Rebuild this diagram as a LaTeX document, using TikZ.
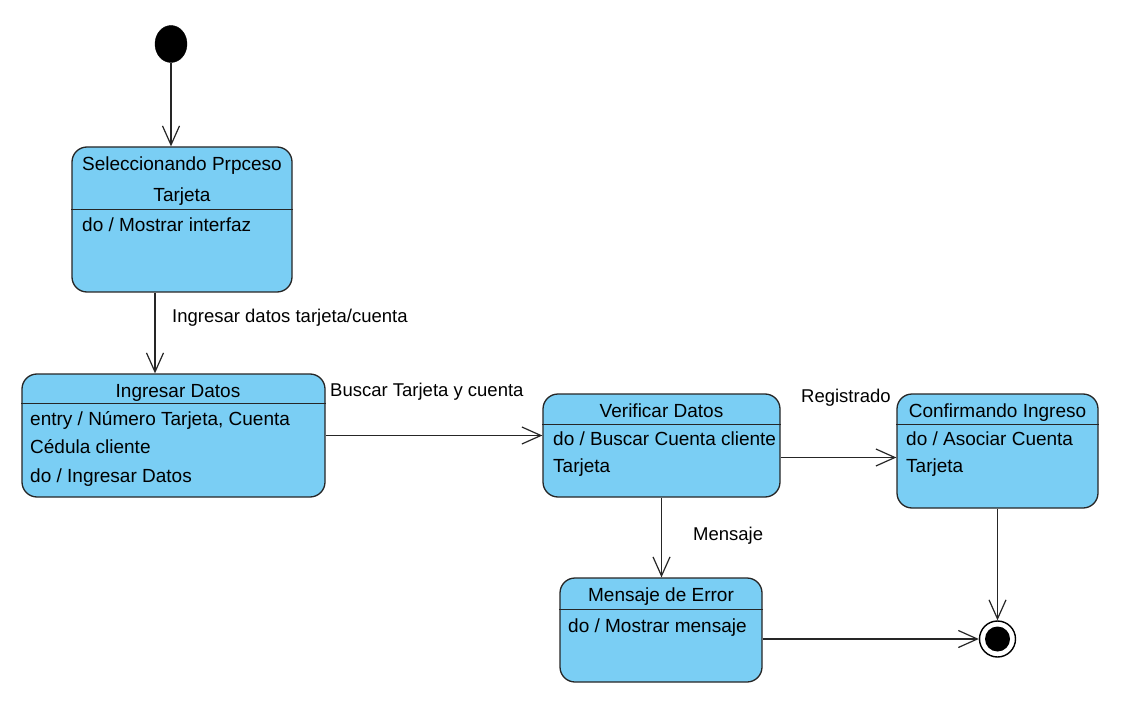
\documentclass[tikz,border=0pt]{standalone}
\usepackage{fontspec}
\setmainfont{Liberation Sans}
\usetikzlibrary{arrows.meta,shapes.geometric}
\definecolor{statefill}{RGB}{122,206,244}
\begin{document}
\begin{tikzpicture}[x=1pt,y=-1pt,
  statebox/.style={draw=black!85, line width=1.3pt, fill=statefill, rounded corners=15pt, inner sep=0pt},
  sepline/.style={draw=black!85, line width=1.3pt},
  ttl/.style={font=\fontsize{19}{22}\selectfont, inner sep=0pt, anchor=base},
  body/.style={font=\fontsize{19}{22}\selectfont, inner sep=0pt, anchor=base west},
  lbl/.style={font=\fontsize{18.5}{22}\selectfont, inner sep=0pt, anchor=base west},
  tr/.style={draw=black!85, line width=1.2pt, -{Straight Barb[length=19pt,width=17pt,line width=1.2pt]}}]
\useasboundingbox (0,0) rectangle (1124,703);
\fill[white] (0,0) rectangle (1124,703);

% initial and final states
\node[ellipse, draw=black, fill=black, minimum width=32pt, minimum height=37pt, inner sep=0pt] (init) at (171,44) {};
\node[circle, draw=black, line width=1.4pt, fill=white, minimum size=36pt, inner sep=0pt] (fin) at (997.5,639) {};
\node[circle, fill=black, minimum size=25pt, inner sep=0pt] (fincore) at (fin) {};

% S1
\node[statebox, minimum width=220pt, minimum height=145pt] (s1) at (182,219.5) {};
\draw[sepline] ([yshift=-63pt]s1.north west) -- ([yshift=-63pt]s1.north east);
\node[ttl] (s1a) at (182,171) {Seleccionando Prpceso};
\node[ttl] (s1b) at (182,202) {Tarjeta};
\node[body] (s1c) at (82,232) {do / Mostrar interfaz};

% S2
\node[statebox, minimum width=303pt, minimum height=123pt] (s2) at (173.5,435.5) {};
\draw[sepline] ([yshift=-30pt]s2.north west) -- ([yshift=-30pt]s2.north east);
\node[ttl] (s2a) at (178,397) {Ingresar Datos};
\node[body] (s2b) at (30,425) {entry / Número Tarjeta, Cuenta};
\node[body] (s2c) at (30,453) {Cédula cliente};
\node[body] (s2d) at (30,482) {do / Ingresar Datos};

% S3
\node[statebox, minimum width=237pt, minimum height=103pt] (s3) at (661.5,445.5) {};
\draw[sepline] ([yshift=-31pt]s3.north west) -- ([yshift=-31pt]s3.north east);
\node[ttl] (s3a) at (661.5,417) {Verificar Datos};
\node[body] (s3b) at (553,445) {do / Buscar Cuenta cliente};
\node[body] (s3c) at (553,472) {Tarjeta};

% S4
\node[statebox, minimum width=201pt, minimum height=114pt] (s4) at (997.5,451) {};
\draw[sepline] ([yshift=-31pt]s4.north west) -- ([yshift=-31pt]s4.north east);
\node[ttl] (s4a) at (997.5,417) {Confirmando Ingreso};
\node[body] (s4b) at (906,445) {do / Asociar Cuenta};
\node[body] (s4c) at (906,472) {Tarjeta};

% S5
\node[statebox, minimum width=202pt, minimum height=104pt] (s5) at (661,630) {};
\draw[sepline] ([yshift=-32pt]s5.north west) -- ([yshift=-32pt]s5.north east);
\node[ttl] (s5a) at (661,601) {Mensaje de Error};
\node[body] (s5b) at (568,632) {do / Mostrar mensaje};

% transitions
\draw[tr] (init.south) -- (init.south |- s1.north);
\draw[tr] ([xshift=-27pt]s1.south) -- ([xshift=-27pt]s1.south |- s2.north);
\node[lbl] (l1) at (172,323) {Ingresar datos tarjeta/cuenta};
\draw[tr] (s2.east) -- (s2.east -| s3.west);
\node[lbl] (l2) at (330,396) {Buscar Tarjeta y cuenta};
\draw[tr] ([yshift=-12pt]s3.east) -- ([yshift=-12pt]s3.east -| s4.west);
\node[lbl] (l3) at (801,402) {Registrado};
\draw[tr] (s3.south) -- (s3.south |- s5.north);
\node[lbl] (l4) at (693,540) {Mensaje};
\draw[tr] (s4.south) -- (fin.north);
\draw[tr] ([yshift=-9pt]s5.east) -- (fin.west);
\end{tikzpicture}
\end{document}
